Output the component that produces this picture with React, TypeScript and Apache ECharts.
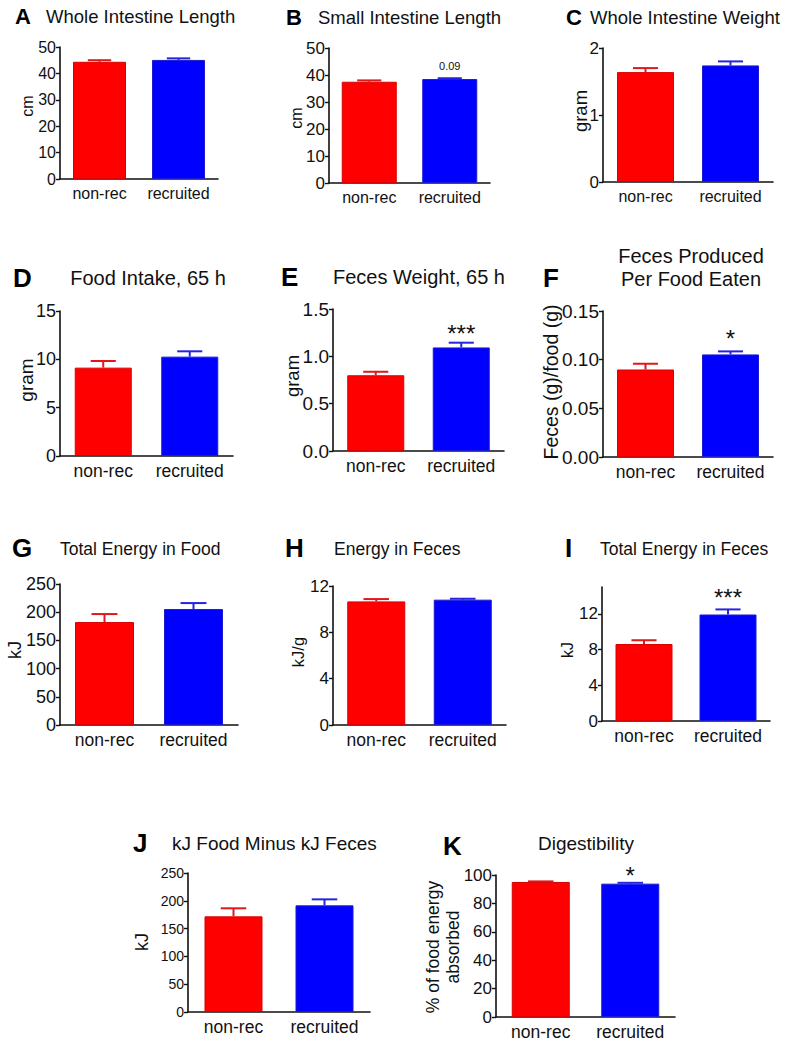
import React, { useEffect, useRef } from 'react';
import * as echarts from 'echarts';

// ---------------- data ----------------
const groups = ['non-rec', 'recruited'];
const panelLetters = ['A', 'B', 'C', 'D', 'E', 'F', 'G', 'H', 'I', 'J', 'K'];
const panelTitles = [
  'Whole Intestine Length',
  'Small Intestine Length',
  'Whole Intestine Weight',
  'Food Intake, 65 h',
  'Feces Weight, 65 h',
  'Feces Produced\nPer Food Eaten',
  'Total Energy in Food',
  'Energy in Feces',
  'Total Energy in Feces',
  'kJ Food Minus kJ Feces',
  'Digestibility',
];
const yAxisTitles = ['cm', 'cm', 'gram', 'gram', 'gram', 'Feces (g)/food (g)', 'kJ', 'kJ/g', 'kJ', 'kJ', '% of food energy\nabsorbed'];
const meanNonRec = [44.4, 37.5, 1.64, 9.14, 0.8, 0.0899, 182.5, 10.67, 8.62, 172, 95.1];
const semNonRec = [0.6, 0.5, 0.06, 0.69, 0.037, 0.0059, 14.2, 0.2, 0.42, 14.5, 0.4];
const meanRecruited = [45.1, 38.5, 1.74, 10.28, 1.094, 0.1054, 205.6, 10.82, 11.92, 191.8, 93.9];
const semRecruited = [0.6, 0.3, 0.06, 0.55, 0.05, 0.0031, 10.6, 0.08, 0.57, 10.8, 0.6];
const significance = ['', '0.09', '', '', '***', '*', '', '', '***', '', '*'];
const yMax = [50, 50, 2, 15, 1.5, 0.15, 250, 12, 15, 250, 100];
const yTicks = [
  [0, 10, 20, 30, 40, 50],
  [0, 10, 20, 30, 40, 50],
  [0, 1, 2],
  [0, 5, 10, 15],
  [0, 0.5, 1, 1.5],
  [0, 0.05, 0.1, 0.15],
  [0, 50, 100, 150, 200, 250],
  [0, 4, 8, 12],
  [0, 4, 8, 12],
  [0, 50, 100, 150, 200, 250],
  [0, 20, 40, 60, 80, 100],
];
const yDecimals = [0, 0, 0, 0, 1, 2, 0, 0, 0, 0, 0];

// ---------------- layout / style ----------------
const FONT = '"Liberation Sans", Arial, Helvetica, sans-serif';
const RED = '#ff0000';
const BLUE = '#0000ff';
const RED_ERR = '#e01818';
const BLUE_ERR = '#2424e0';
const gridBoxes = [
  [60, 47, 158, 132],
  [329, 48, 161, 135],
  [603, 48, 170, 134],
  [60, 311, 173, 145],
  [333, 309, 171, 142],
  [603, 311, 170, 146],
  [60, 584, 178, 141],
  [333, 586, 173, 139],
  [602, 587, 168, 134],
  [188, 873, 182, 139],
  [496, 875, 179, 142],
];
const barWidths = [53, 55, 57, 57, 57, 57, 59, 58, 57, 58, 58];
const yLabelSizes = [16, 17, 17, 18, 19, 19, 18, 17, 17, 14, 17];
const xLabelSizes = [16, 16, 16, 17.5, 17.5, 17.5, 17.5, 17.5, 17.5, 17.5, 17.5];
const annotGap = [12, 12, 12, 12, 15, 18, 12, 12, 17, 12, 13];
// letter: [x, cy, size]; title: [x, cy, size, align]
const letterPos = [
  [15, 16, 22], [286, 17, 22], [566, 17, 22],
  [13, 278, 26], [281, 277, 26], [543, 278, 26],
  [12, 548, 26], [285, 548, 26], [565, 548, 26],
  [133, 843, 26], [443, 846, 26],
];
const titlePos: [number, number, number, string][] = [
  [46, 16, 18.5, 'left'], [318, 17, 18.5, 'left'], [590, 17, 18.5, 'left'],
  [148, 278, 20, 'center'], [419, 277, 20, 'center'], [691, 267, 20, 'center'],
  [60, 549, 17.5, 'left'], [334, 549, 17.5, 'left'], [600, 549, 17.5, 'left'],
  [172, 843, 19, 'left'], [586, 843, 19, 'center'],
];
const yTitlePos = [
  [27, 106, 16], [296, 118, 16], [580, 111, 18.5],
  [26, 380, 19], [292, 376, 18.5], [551, 382, 19.5],
  [15, 650, 18], [298, 652, 16.5], [567, 650, 16],
  [142, 942, 18], [443, 947, 17.5],
];

function buildOption() {
  const grid: any[] = [];
  const xAxis: any[] = [];
  const yAxis: any[] = [];
  const series: any[] = [];
  const graphic: any[] = [];

  panelLetters.forEach((letter, i) => {
    const [l, t, w, h] = gridBoxes[i];
    grid.push({ left: l, top: t, width: w, height: h, containLabel: false });
    xAxis.push({
      type: 'category',
      gridIndex: i,
      data: groups,
      axisLine: { lineStyle: { color: '#111', width: 1.6 } },
      axisTick: { alignWithLabel: true, length: 4, lineStyle: { color: '#111', width: 1.4 } },
      axisLabel: { color: '#111', fontSize: xLabelSizes[i], fontFamily: FONT, margin: 6, interval: 0, hideOverlap: false },
      splitLine: { show: false },
    });
    yAxis.push({
      type: 'value',
      gridIndex: i,
      min: 0,
      max: yMax[i],
      axisLine: { show: true, lineStyle: { color: '#111', width: 1.6 } },
      axisTick: { show: true, length: 4, customValues: yTicks[i], lineStyle: { color: '#111', width: 1.4 } },
      axisLabel: {
        color: '#111',
        fontSize: yLabelSizes[i],
        fontFamily: FONT,
        margin: 4,
        customValues: yTicks[i],
        formatter: (v: number) => v.toFixed(yDecimals[i]),
      },
      splitLine: { show: false },
    });
    series.push({
      type: 'bar',
      xAxisIndex: i,
      yAxisIndex: i,
      barWidth: barWidths[i],
      z: 2,
      data: [
        { value: meanNonRec[i], itemStyle: { color: RED, borderColor: '#d80000', borderWidth: 1 } },
        { value: meanRecruited[i], itemStyle: { color: BLUE, borderColor: '#1a1ad0', borderWidth: 1 } },
      ],
    });
    const capW = barWidths[i] * 0.44;
    series.push({
      type: 'custom',
      xAxisIndex: i,
      yAxisIndex: i,
      z: 3,
      data: [
        [0, meanNonRec[i], semNonRec[i]],
        [1, meanRecruited[i], semRecruited[i]],
      ],
      encode: { x: 0, y: 1 },
      renderItem: (params: any, api: any) => {
        const c = api.value(0);
        const m = api.value(1);
        const s = api.value(2);
        const p0 = api.coord([c, m]);
        const p1 = api.coord([c, m + s]);
        const col = params.dataIndex === 0 ? RED_ERR : BLUE_ERR;
        const children: any[] = [
          { type: 'line', shape: { x1: p0[0], y1: p0[1], x2: p1[0], y2: p1[1] }, style: { stroke: col, lineWidth: 2 } },
          { type: 'line', shape: { x1: p1[0] - capW / 2, y1: p1[1], x2: p1[0] + capW / 2, y2: p1[1] }, style: { stroke: col, lineWidth: 2 } },
        ];
        const ann = params.dataIndex === 1 ? significance[i] : '';
        if (ann) {
          const star = ann.indexOf('*') >= 0;
          const fs = star ? 24 : 11;
          children.push({
            type: 'text',
            style: {
              text: ann,
              x: p1[0],
              y: p1[1] - annotGap[i] + (star ? 0.23 * fs : 0),
              fill: '#111',
              fontSize: fs,
              fontFamily: FONT,
              align: 'center',
              verticalAlign: 'middle',
            },
          });
        }
        return { type: 'group', children };
      },
    });

    const [lx, ly, ls] = letterPos[i];
    graphic.push({
      type: 'text',
      x: lx,
      y: ly,
      style: { text: letter, fontSize: ls, fontWeight: 'bold', fontFamily: FONT, fill: '#000', align: 'left', verticalAlign: 'middle' },
    });
    const [tx, ty, ts, ta] = titlePos[i];
    graphic.push({
      type: 'text',
      x: tx,
      y: ty,
      style: { text: panelTitles[i], fontSize: ts, fontFamily: FONT, fill: '#111', align: ta, verticalAlign: 'middle', lineHeight: 23 },
    });
    const [yx, yy, ys] = yTitlePos[i];
    graphic.push({
      type: 'text',
      x: yx,
      y: yy,
      rotation: Math.PI / 2,
      style: { text: yAxisTitles[i], fontSize: ys, fontFamily: FONT, fill: '#111', align: 'center', verticalAlign: 'middle', lineHeight: 20 },
    });
  });

  return {
    animation: false,
    backgroundColor: '#ffffff',
    grid,
    xAxis,
    yAxis,
    series,
    graphic,
  };
}

export default function App() {
  const ref = useRef<HTMLDivElement>(null);
  useEffect(() => {
    if (!ref.current) return;
    const chart = echarts.init(ref.current, undefined, { renderer: 'svg' });
    chart.setOption(buildOption() as any);
    return () => chart.dispose();
  }, []);
  return <div ref={ref} style={{ position: 'absolute', left: 0, top: 0, width: 790, height: 1043 }} />;
}
